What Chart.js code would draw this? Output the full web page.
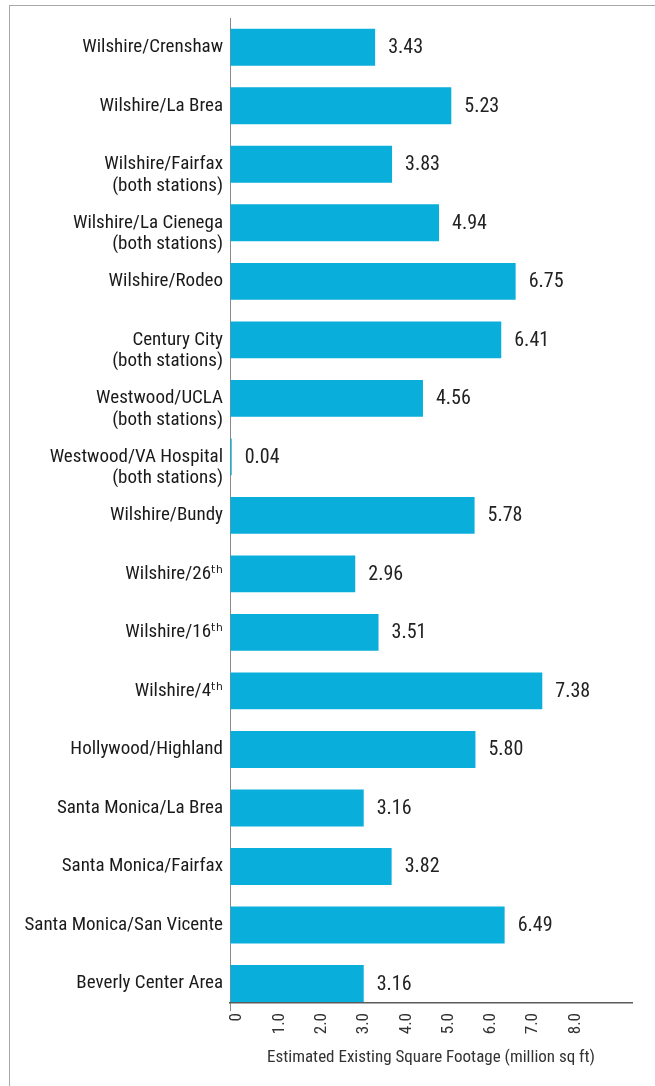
<!DOCTYPE html>
<html>
<head>
<meta charset="utf-8">
<script src="https://cdn.jsdelivr.net/npm/chart.js@4/dist/chart.umd.min.js"></script>
<style>
  html, body { margin: 0; padding: 0; background: #ffffff; }
  #wrap { position: relative; width: 655px; height: 1086px; overflow: hidden; }
  #frame { position: absolute; left: 9px; top: 5px; right: -5px; bottom: -5px;
           border-left: 1.5px solid #a8a8a8; border-top: 1.5px solid #a8a8a8; }
  #c { position: absolute; left: 0; top: 0; }
</style>
</head>
<body>
<div id="wrap">
  <div id="frame"></div>
  <canvas id="c" width="655" height="1086"></canvas>
</div>
<script>
const categories = [
  ['Wilshire/Crenshaw'],
  ['Wilshire/La Brea'],
  ['', 'Wilshire/Fairfax', '(both stations)'],
  ['', 'Wilshire/La Cienega', '(both stations)'],
  ['Wilshire/Rodeo'],
  ['', 'Century City', '(both stations)'],
  ['', 'Westwood/UCLA', '(both stations)'],
  ['', 'Westwood/VA Hospital', '(both stations)'],
  ['Wilshire/Bundy'],
  ['Wilshire/26ᵗʰ'],
  ['Wilshire/16ᵗʰ'],
  ['Wilshire/4ᵗʰ'],
  ['Hollywood/Highland'],
  ['Santa Monica/La Brea'],
  ['Santa Monica/Fairfax'],
  ['Santa Monica/San Vicente'],
  ['Beverly Center Area']
];
const values = [3.43, 5.23, 3.83, 4.94, 6.75, 6.41, 4.56, 0.04, 5.78, 2.96, 3.51, 7.38, 5.80, 3.16, 3.82, 6.49, 3.16];
const xTicks = [0, 1, 2, 3, 4, 5, 6, 7, 8];
const axisTitle = 'Estimated Existing Square Footage (million sq ft)';

const FONT = '"Roboto Condensed", "DejaVu Sans Condensed", sans-serif';
const BAR = '#0aaedb';

const valueLabels = {
  id: 'valueLabels',
  afterDatasetsDraw(chart) {
    const ctx = chart.ctx;
    const meta = chart.getDatasetMeta(0);
    ctx.save();
    ctx.font = '20px ' + FONT;
    ctx.fillStyle = '#222222';
    ctx.textAlign = 'left';
    ctx.textBaseline = 'middle';
    meta.data.forEach((el, i) => {
      ctx.fillText(values[i].toFixed(2), el.x + 13, el.y + 1);
    });
    ctx.restore();
  }
};

new Chart(document.getElementById('c'), {
  type: 'bar',
  data: {
    datasets: [{
      data: values.map((v, i) => ({ x: v, y: i })),
      backgroundColor: BAR,
      borderWidth: 0,
      categoryPercentage: 0.63,
      barPercentage: 1
    }]
  },
  options: {
    indexAxis: 'y',
    responsive: false,
    maintainAspectRatio: false,
    animation: false,
    layout: { padding: { top: 18, right: 23, bottom: 0, left: 0 } },
    plugins: { legend: { display: false }, tooltip: { enabled: false } },
    scales: {
      y: {
        type: 'linear',
        bounds: 'data',
        offset: false,
        reverse: true,
        min: -0.5,
        max: 16.333,
        afterBuildTicks: s => { s.ticks = categories.map((c, i) => ({ value: i })); },
        afterFit: s => { s.width = 230; },
        grid: { display: false, drawTicks: false, offset: false },
        border: { display: true, color: '#8a8a8a', width: 1 },
        ticks: {
          autoSkip: false,
          padding: 7,
          color: '#1a1a1a',
          font: { family: FONT, size: 19, lineHeight: 1.15 },
          callback: v => categories[v]
        }
      },
      x: {
        type: 'linear',
        bounds: 'data',
        offset: false,
        min: 0,
        max: 9.5,
        afterBuildTicks: s => { s.ticks = xTicks.map(v => ({ value: v })); },
        afterFit: s => { s.height = 83; },
        grid: {
          display: true,
          drawOnChartArea: false,
          drawTicks: true,
          tickLength: 8,
          color: c => (c.tick && c.tick.value === 0) ? '#8a8a8a' : 'rgba(0,0,0,0)'
        },
        border: { display: true, color: '#5a5a5a', width: 1.5 },
        ticks: {
          autoSkip: false,
          minRotation: 90,
          maxRotation: 90,
          padding: 2,
          labelOffset: 7,
          color: '#333333',
          font: { family: FONT, size: 17, lineHeight: 0.8 },
          callback: v => v === 0 ? '0' : v.toFixed(1)
        },
        title: {
          display: true,
          text: axisTitle,
          color: '#333333',
          font: { family: FONT, size: 17, lineHeight: 1.2 },
          padding: { top: 4, bottom: 18 }
        }
      }
    }
  },
  plugins: [valueLabels]
});
</script>
</body>
</html>
